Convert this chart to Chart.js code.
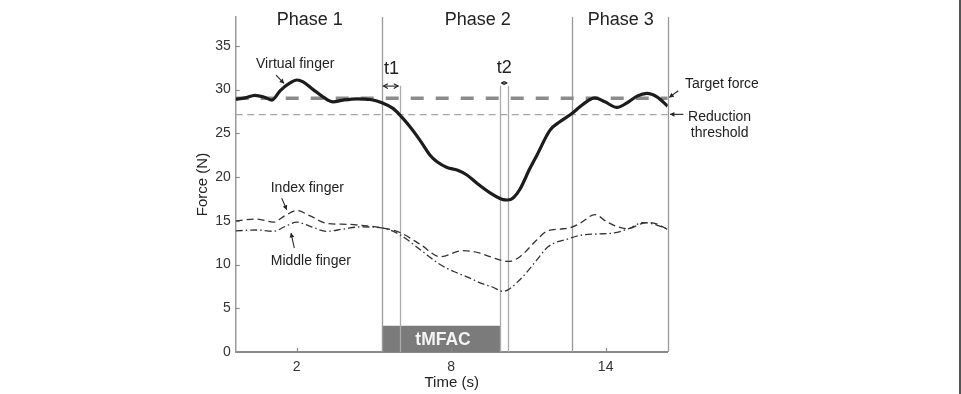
<!DOCTYPE html>
<html>
<head>
<meta charset="utf-8">
<script src="https://cdn.jsdelivr.net/npm/chart.js@4.4.1/dist/chart.umd.min.js"></script>
<style>
body{margin:0;background:#fff;}
#wrap{width:961px;height:394px;}
</style>
</head>
<body>
<div id="wrap"><canvas id="chart" width="961" height="394"></canvas></div>
<script>
// values: time (s), force (N)
const vfTime  = [-0.37,-0.01,0.38,0.77,1.04,1.35,1.74,2.01,2.25,2.64,3.02,3.41,3.80,4.35,4.85,5.31,5.74,6.01,6.40,6.79,7.18,7.45,7.84,8.23,8.61,9.00,9.51,9.90,10.02,10.17,10.32,10.44,10.67,11.06,11.33,11.84,12.22,12.69,13.00,13.39,13.58,13.97,14.44,14.83,15.22,15.60,15.99,16.41];
const vfForce = [28.9,29.05,29.35,29.1,28.8,29.85,30.76,31.1,30.88,30.0,29.17,28.6,28.8,28.95,28.87,28.5,27.85,27.08,25.75,24.2,22.5,21.75,21.1,20.8,20.24,19.3,18.2,17.55,17.42,17.38,17.45,17.7,18.6,21.0,22.5,25.37,26.32,27.27,28.03,28.87,29.05,28.6,27.96,28.48,29.25,29.56,29.17,28.1];

const idxTime  = [-0.37,0.45,1.09,1.55,2.0,2.5,3.17,3.94,4.6,5.31,6.01,6.8,7.57,8.46,9.12,9.51,10.22,10.67,11.32,11.71,12.22,12.61,13.0,13.58,14.04,14.43,14.82,15.59,15.98,16.41];
const idxForce = [15.0,15.2,14.85,15.6,16.17,15.6,14.7,14.6,14.45,14.2,13.66,12.3,10.9,11.6,11.3,10.9,10.35,10.9,12.8,13.8,14.05,14.2,14.7,15.7,14.9,14.35,14.1,14.8,14.65,14.0];

const midTime  = [-0.37,0.45,1.09,1.55,2.0,2.5,3.17,3.8,4.46,5.31,6.01,6.8,7.57,8.1,8.73,9.12,9.6,10.02,10.67,11.32,11.75,12.61,13.13,13.7,14.3,14.9,15.46,15.9,16.41];
const midForce = [13.85,13.95,13.8,14.35,14.85,14.4,13.8,14.05,14.3,14.2,13.4,11.7,10.0,9.2,8.45,7.9,7.43,6.93,8.27,10.5,12.0,13.0,13.4,13.5,13.6,14.1,14.8,14.6,14.05];

const targetForce = 29.0;
const reductionThreshold = 27.15;
const phaseEdges = [-0.37, 5.31, 12.68, 16.41];
const phaseNames = ['Phase 1', 'Phase 2', 'Phase 3'];
const t1Edges = [5.31, 6.0];
const t2Edges = [9.9, 10.22];
const tmfacSpan = [5.31, 9.9];
const tmfacForce = 3;
const xTicks = [2, 8, 14];
const yTicks = [0, 5, 10, 15, 20, 25, 30, 35];

function pts(xs, ys) { return xs.map((x, i) => ({x: x, y: ys[i]})); }

const FONT = "'Liberation Sans', Arial, sans-serif";

// annotation texts placed in data coordinates
const notes = [
  {text: 'Virtual finger', x: 0.42, y: 32.43, size: 14, align: 'left'},
  {text: 't1', x: 5.39, y: 31.77, size: 18, align: 'left'},
  {text: 't2', x: 10.06, y: 31.85, size: 18, align: 'center'},
  {text: 'Target force', x: 17.08, y: 30.14, size: 14, align: 'left'},
  {text: 'Reduction', x: 17.2, y: 26.44, size: 14, align: 'left'},
  {text: 'threshold', x: 17.31, y: 24.55, size: 14, align: 'left'},
  {text: 'Index finger', x: 0.99, y: 18.34, size: 14, align: 'left'},
  {text: 'Middle finger', x: 0.99, y: 9.98, size: 14, align: 'left'}
];
const pointers = [
  [1.196, 31.66, 1.507, 30.71],
  [1.417, 17.59, 1.612, 16.26],
  [1.907, 11.89, 1.779, 13.6],
  [16.82, 29.87, 16.47, 29.11],
  [17.02, 27.17, 16.5, 27.17]
];

function arrowHead(ctx, x1, y1, x2, y2, len, filled) {
  const a = Math.atan2(y2 - y1, x2 - x1);
  ctx.beginPath();
  ctx.moveTo(x2 - len * Math.cos(a - 0.5), y2 - len * Math.sin(a - 0.5));
  ctx.lineTo(x2, y2);
  ctx.lineTo(x2 - len * Math.cos(a + 0.5), y2 - len * Math.sin(a + 0.5));
  if (filled) { ctx.closePath(); ctx.fill(); } else ctx.stroke();
}

const extras = {
  id: 'extras',
  beforeDatasetsDraw(chart) {
    const ctx = chart.ctx, xs = chart.scales.x, ys = chart.scales.y;
    const top = chart.chartArea.top, bottom = chart.chartArea.bottom;
    ctx.save();
    // tMFAC bar
    const bx1 = xs.getPixelForValue(tmfacSpan[0]), bx2 = xs.getPixelForValue(tmfacSpan[1]);
    const by = ys.getPixelForValue(tmfacForce);
    ctx.fillStyle = '#7b7b7b';
    ctx.fillRect(bx1, by, bx2 - bx1, bottom - by);
    ctx.fillStyle = '#f4f4f4';
    ctx.font = 'bold 17.5px ' + FONT;
    ctx.textAlign = 'center';
    ctx.textBaseline = 'middle';
    ctx.fillText('tMFAC', (bx1 + bx2) / 2 + 2, (by + bottom) / 2 + 1);

    // phase boundaries
    ctx.strokeStyle = '#9a9a9a';
    ctx.lineWidth = 1.3;
    phaseEdges.slice(1).forEach(v => {
      const px = Math.round(xs.getPixelForValue(v)) + 0.5;
      ctx.beginPath(); ctx.moveTo(px, top); ctx.lineTo(px, bottom); ctx.stroke();
    });
    // t1 / t2 lines
    ctx.strokeStyle = '#ababab';
    const ly = ys.getPixelForValue(30.45);
    [t1Edges[1], t2Edges[0], t2Edges[1]].forEach(v => {
      const px = Math.round(xs.getPixelForValue(v)) + 0.5;
      ctx.beginPath(); ctx.moveTo(px, ly); ctx.lineTo(px, bottom); ctx.stroke();
    });

    // inward tick marks
    ctx.strokeStyle = '#8a8a8a';
    ctx.lineWidth = 1.2;
    yTicks.slice(1).forEach(v => {
      const py = Math.round(ys.getPixelForValue(v)) + 0.5;
      ctx.beginPath(); ctx.moveTo(xs.left, py); ctx.lineTo(xs.left + 4, py); ctx.stroke();
    });
    xTicks.forEach(v => {
      const px = Math.round(xs.getPixelForValue(v)) + 0.5;
      ctx.beginPath(); ctx.moveTo(px, bottom); ctx.lineTo(px, bottom - 4); ctx.stroke();
    });
    ctx.restore();
  },
  afterDatasetsDraw(chart) {
    const ctx = chart.ctx, xs = chart.scales.x, ys = chart.scales.y;
    ctx.save();
    ctx.fillStyle = '#222';
    ctx.textBaseline = 'alphabetic';
    // phase names
    ctx.font = '18px ' + FONT;
    ctx.textAlign = 'center';
    phaseNames.forEach((n, i) => {
      const cx = (xs.getPixelForValue(phaseEdges[i]) + xs.getPixelForValue(phaseEdges[i + 1])) / 2;
      ctx.fillText(n, cx + 1, 25);
    });
    notes.forEach(n => {
      ctx.font = n.size + 'px ' + FONT;
      ctx.textAlign = n.align;
      ctx.fillText(n.text, xs.getPixelForValue(n.x), ys.getPixelForValue(n.y));
    });
    // pointer arrows
    ctx.strokeStyle = '#222';
    ctx.lineWidth = 1.1;
    pointers.forEach(p => {
      const x1 = xs.getPixelForValue(p[0]), y1 = ys.getPixelForValue(p[1]);
      const x2 = xs.getPixelForValue(p[2]), y2 = ys.getPixelForValue(p[3]);
      ctx.beginPath(); ctx.moveTo(x1, y1); ctx.lineTo(x2, y2); ctx.stroke();
      arrowHead(ctx, x1, y1, x2, y2, 5, true);
    });
    // t1 and t2 spans
    [[t1Edges, 30.4, 5], [t2Edges, 30.75, 3]].forEach(s => {
      const a = xs.getPixelForValue(s[0][0]) + 1.5, b = xs.getPixelForValue(s[0][1]) - 1.5;
      const y = ys.getPixelForValue(s[1]);
      ctx.beginPath(); ctx.moveTo(a, y); ctx.lineTo(b, y); ctx.stroke();
      arrowHead(ctx, b, y, a, y, s[2], false);
      arrowHead(ctx, a, y, b, y, s[2], false);
    });
    // frame edge on the right
    ctx.fillStyle = '#555';
    ctx.fillRect(959, 0, 2, 394);
    ctx.restore();
  }
};

const xMin = phaseEdges[0], xMax = phaseEdges[phaseEdges.length - 1];

new Chart(document.getElementById('chart').getContext('2d'), {
  type: 'line',
  data: {
    datasets: [
      {label: 'Virtual finger', data: pts(vfTime, vfForce), borderColor: '#1c1c1c', borderWidth: 3.2, cubicInterpolationMode: 'monotone'},
      {label: 'Target force', data: pts([xMin, xMax], [targetForce, targetForce]), borderColor: '#8c8c8c', borderWidth: 3.5, borderDash: [13, 12]},
      {label: 'Reduction threshold', data: pts([xMin, xMax], [reductionThreshold, reductionThreshold]), borderColor: '#a6a6a6', borderWidth: 1.3, borderDash: [7, 4.5]},
      {label: 'Index finger', data: pts(idxTime, idxForce), borderColor: '#333', borderWidth: 1.3, borderDash: [7, 4], cubicInterpolationMode: 'monotone'},
      {label: 'Middle finger', data: pts(midTime, midForce), borderColor: '#333', borderWidth: 1.3, borderDash: [7, 3, 1.5, 3], cubicInterpolationMode: 'monotone'}
    ]
  },
  options: {
    responsive: false,
    animation: false,
    events: [],
    elements: {point: {radius: 0}},
    layout: {padding: {left: 185.7, right: 293.3, top: 17, bottom: 0}},
    plugins: {legend: {display: false}, tooltip: {enabled: false}},
    scales: {
      x: {
        type: 'linear',
        min: xMin,
        max: xMax,
        afterBuildTicks: s => { s.ticks = xTicks.map(v => ({value: v})); },
        afterFit: s => { s.height = 42; },
        grid: {display: false, drawTicks: false},
        border: {display: true, color: '#8a8a8a', width: 2},
        ticks: {color: '#333', font: {family: FONT, size: 14}, padding: 7, maxRotation: 0, autoSkip: false},
        title: {display: true, text: 'Time (s)', color: '#222', font: {family: FONT, size: 15}, padding: {top: 0, bottom: 2}}
      },
      y: {
        min: 0,
        max: 38.3,
        afterBuildTicks: s => { s.ticks = yTicks.map(v => ({value: v})); },
        afterFit: s => { s.width = 50; },
        grid: {display: false, drawTicks: false},
        border: {display: true, color: '#9a9a9a', width: 1.5},
        ticks: {color: '#333', font: {family: FONT, size: 14}, padding: 5},
        title: {display: true, text: 'Force (N)', color: '#222', font: {family: FONT, size: 15}, padding: {top: 8, bottom: 0}}
      }
    }
  },
  plugins: [extras]
});
</script>
</body>
</html>
